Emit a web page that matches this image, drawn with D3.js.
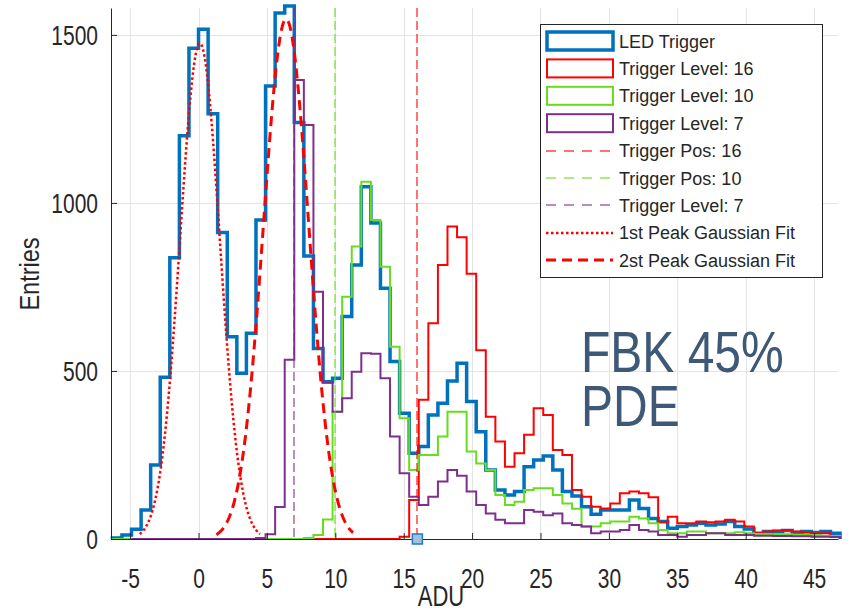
<!DOCTYPE html>
<html>
<head>
<meta charset="utf-8">
<script src="https://cdn.jsdelivr.net/npm/d3@7"></script>
<style>
  body { margin: 0; background: #fff; }
  svg { display: block; }
  text { font-family: "Liberation Sans", Arial, sans-serif; }
</style>
</head>
<body>
<div id="chart"></div>
<script>
// --- datos (histogramas con bins de 0.7 ADU) ---
const binWidth = 0.7;

const ledStart = -6.3;
const ledCounts = [3, 12, 29, 86, 220, 481, 837, 1200, 1460, 1517, 1265, 912, 602, 493, 612, 949, 1348, 1565, 1586, 1239,
  842, 567, 468, 478, 662, 815, 1048, 940, 746, 528, 374, 255, 275, 369, 404, 470, 523, 409, 319, 205,
  146, 131, 141, 215, 235, 247, 205, 141, 128, 96, 74, 86, 86, 86, 116, 91, 61, 52, 32, 37,
  42, 47, 42, 45, 52, 37, 30, 17, 22, 22, 25, 19, 22, 19, 22, 17];

const trig16Start = 8.4;
const trig16Counts = [0, 0, 0, 0, 0, 0, 0, 0, 0, 7, 116, 414, 642, 815, 930, 898, 789, 562, 364, 290,
  215, 255, 310, 389, 369, 265, 250, 146, 126, 96, 91, 106, 136, 141, 136, 124, 50, 66, 47, 47,
  52, 50, 52, 57, 52, 37, 17, 22, 25, 27, 22, 19, 17, 17, 9];

const trig10Start = -6.3;
const trig10Counts = [0, 0, 0, 0, 0, 0, 0, 0, 0, 0, 0, 0, 0, 0, 0, 0, 0, 0, 0, 0,
  3, 12, 58, 379, 721, 870, 1063, 949, 810, 572, 359, 205, 250, 250, 305, 379, 379, 260, 225, 205,
  131, 101, 111, 146, 151, 151, 131, 106, 90, 37, 37, 47, 52, 52, 66, 61, 47, 27, 17, 17,
  22, 22, 17, 17, 17, 20, 17, 15, 15, 15, 14, 13, 12, 12, 10, 9];

const trig7Start = -4.9;
const trig7Counts = [0, 0, 0, 0, 0, 0, 0, 0, 0, 0, 0, 0, 0, 3, 14, 95, 533, 1366, 1232, 736,
  465, 379, 419, 498, 553, 551, 478, 305, 196, 126, 101, 126, 171, 205, 188, 141, 101, 76, 57, 47,
  47, 86, 81, 71, 76, 47, 42, 37, 17, 22, 22, 27, 42, 27, 22, 12, 12, 7, 12, 12,
  17, 17, 12, 12, 12, 10, 10, 9, 9, 8, 8, 7, 7, 6];

const triggerPositions = [16, 10, 7];

// parámetros de los ajustes gaussianos
const fit1 = { amp: 1475, mu: 0.1, sigma: 1.45, from: -4.3, to: 4.5 };
const fit2 = { amp: 1547, mu: 6.4, sigma: 1.65, from: 1.3, to: 11.3 };

const xTicks = [-5, 0, 5, 10, 15, 20, 25, 30, 35, 40, 45];
const yTicks = [0, 500, 1000, 1500];

const legendLabels = ['LED Trigger', 'Trigger Level: 16', 'Trigger Level: 10', 'Trigger Level: 7',
  'Trigger Pos: 16', 'Trigger Pos: 10', 'Trigger Level: 7', '1st Peak Gaussian Fit', '2st Peak Gaussian Fit'];

// --- estilos ---
const C = { led: '#0072BD', t16: '#FF0000', t10: '#66DD1E', t7: '#7E2F8E', axis: '#262626', grid: '#e3e3e3' };
const TALL = 1.35;   // el texto de los ejes se ve alargado en vertical

const width = 850, height = 612;
const plot = { left: 111, right: 838, top: 8, bottom: 539 };

const svg = d3.select('#chart').append('svg')
  .attr('width', width).attr('height', height);

const x = d3.scaleLinear().domain([-6.4, 46.75]).range([plot.left, plot.right]);
const y = d3.scaleLinear().domain([0, 1580]).range([plot.bottom, plot.top]);

// grid
const grid = svg.append('g');
grid.selectAll('line.gx').data(xTicks).join('line')
  .attr('x1', d => Math.round(x(d)) + 0.5).attr('x2', d => Math.round(x(d)) + 0.5)
  .attr('y1', plot.top).attr('y2', plot.bottom)
  .attr('stroke', C.grid).attr('stroke-width', 1);
grid.selectAll('line.gy').data(yTicks.filter(d => d > 0)).join('line')
  .attr('x1', plot.left).attr('x2', plot.right)
  .attr('y1', d => Math.round(y(d)) + 0.5).attr('y2', d => Math.round(y(d)) + 0.5)
  .attr('stroke', C.grid).attr('stroke-width', 1);

// histograma tipo stairs
function stairsPath(start, counts) {
  const pts = [[start, 0]];
  counts.forEach((c, i) => {
    pts.push([start + i * binWidth, c]);
    pts.push([start + (i + 1) * binWidth, c]);
  });
  pts.push([start + counts.length * binWidth, 0]);
  return d3.line().x(d => x(d[0])).y(d => y(d[1]))(pts);
}

const hists = [
  { start: ledStart, counts: ledCounts, color: C.led, w: 3.5 },
  { start: trig16Start, counts: trig16Counts, color: C.t16, w: 2 },
  { start: trig10Start, counts: trig10Counts, color: C.t10, w: 2 },
  { start: trig7Start, counts: trig7Counts, color: C.t7, w: 2 }
];
svg.append('g').selectAll('path').data(hists).join('path')
  .attr('d', d => stairsPath(d.start, d.counts))
  .attr('fill', 'none')
  .attr('stroke', d => d.color)
  .attr('stroke-width', d => d.w)
  .attr('stroke-linejoin', 'miter');

// posiciones de trigger (líneas finas y claras)
const posColors = [C.t16, C.t10, C.t7];
svg.append('g').selectAll('line').data(triggerPositions).join('line')
  .attr('x1', d => Math.round(x(d))).attr('x2', d => Math.round(x(d)))
  .attr('y1', plot.top).attr('y2', plot.bottom)
  .attr('stroke', (d, i) => posColors[i])
  .attr('stroke-opacity', 0.55)
  .attr('stroke-width', 2)
  .attr('stroke-dasharray', '9,4');

// ajustes gaussianos
function gaussPath(f) {
  const xs = d3.range(f.from, f.to + 1e-9, 0.05);
  return d3.line()
    .x(d => x(d))
    .y(d => y(f.amp * Math.exp(-((d - f.mu) ** 2) / (2 * f.sigma * f.sigma))))(xs);
}
svg.append('path').attr('d', gaussPath(fit1))
  .attr('fill', 'none').attr('stroke', C.t16).attr('stroke-width', 2.5)
  .attr('stroke-dasharray', '2.5,2.5');
svg.append('path').attr('d', gaussPath(fit2))
  .attr('fill', 'none').attr('stroke', C.t16).attr('stroke-width', 3)
  .attr('stroke-dasharray', '10,6');

// ejes
const fmt = d => String(d);
const yAxis = svg.append('g')
  .attr('transform', `translate(${plot.left},0)`)
  .call(d3.axisLeft(y).tickValues(yTicks).tickFormat(fmt).tickSizeInner(-6).tickSizeOuter(0));
const xAxis = svg.append('g')
  .attr('transform', `translate(0,${plot.bottom})`)
  .call(d3.axisBottom(x).tickValues(xTicks).tickFormat(fmt).tickSizeInner(-6).tickSizeOuter(0));
[yAxis, xAxis].forEach(a => {
  a.select('.domain').attr('stroke', C.axis);
  a.selectAll('.tick line').attr('stroke', C.axis);
  a.selectAll('.tick text').attr('fill', C.axis).attr('font-size', 21);
});
yAxis.selectAll('.tick text')
  .attr('x', 0).attr('y', 0).attr('dy', '0.35em')
  .attr('transform', `translate(-13,0) scale(1,${TALL})`);
xAxis.selectAll('.tick text')
  .attr('y', 0).attr('dy', 0)
  .attr('transform', `translate(0,49) scale(1,${TALL})`);

// marcador en la posición de trigger
svg.append('rect')
  .attr('x', x(16) - 5).attr('y', y(0) - 5)
  .attr('width', 10).attr('height', 10)
  .attr('fill', '#9cc2e6').attr('stroke', '#2a78b8').attr('stroke-width', 1.5);

// etiquetas de ejes
svg.append('text')
  .attr('transform', 'translate(441,606) scale(1,1.3)')
  .attr('text-anchor', 'middle').attr('fill', C.axis).attr('font-size', 22)
  .text('ADU');
svg.append('text')
  .attr('transform', 'translate(39,274) rotate(-90) scale(1,1.2)')
  .attr('text-anchor', 'middle').attr('fill', C.axis).attr('font-size', 23.5)
  .text('Entries');

// leyenda
const lg = svg.append('g');
lg.append('rect')
  .attr('x', 540.5).attr('y', 24.5).attr('width', 282).attr('height', 253)
  .attr('fill', '#fff').attr('stroke', C.axis).attr('stroke-width', 1);
const legendStyles = [
  { type: 'rect', color: C.led, w: 3.5 },
  { type: 'rect', color: C.t16, w: 2 },
  { type: 'rect', color: C.t10, w: 2 },
  { type: 'rect', color: C.t7, w: 2 },
  { type: 'line', color: C.t16, w: 2, dash: '10,8', op: 0.55 },
  { type: 'line', color: C.t10, w: 2, dash: '10,8', op: 0.55 },
  { type: 'line', color: C.t7, w: 2, dash: '10,8', op: 0.55 },
  { type: 'line', color: C.t16, w: 2.5, dash: '2.5,2.5', op: 1 },
  { type: 'line', color: C.t16, w: 3, dash: '10,6', op: 1 }
];
legendLabels.forEach((label, i) => {
  const cy = 41 + i * 27.4;
  const s = legendStyles[i];
  if (s.type === 'rect') {
    lg.append('rect')
      .attr('x', 547).attr('y', cy - 9).attr('width', 66).attr('height', 18)
      .attr('fill', 'none').attr('stroke', s.color).attr('stroke-width', s.w);
  } else {
    lg.append('line')
      .attr('x1', 546).attr('x2', 613).attr('y1', Math.round(cy)).attr('y2', Math.round(cy))
      .attr('stroke', s.color).attr('stroke-width', s.w).attr('stroke-dasharray', s.dash)
      .attr('stroke-opacity', s.op);
  }
  lg.append('text')
    .attr('x', 619).attr('y', cy + 6.5)
    .attr('fill', C.axis).attr('font-size', 18)
    .text(label);
});

// anotación (un poco estirada en vertical, como en la figura)
const note = svg.append('g').attr('fill', '#3e5877').attr('font-size', 48);
note.append('text').attr('transform', 'translate(581,372) scale(1,1.2)').text('FBK 45%');
note.append('text').attr('transform', 'translate(581,426) scale(1,1.2)').text('PDE');
</script>
</body>
</html>
